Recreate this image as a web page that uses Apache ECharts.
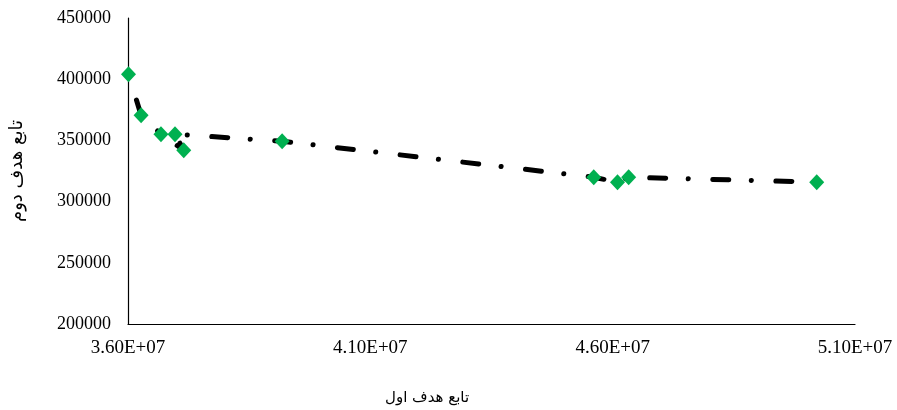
<!DOCTYPE html>
<html>
<head>
<meta charset="utf-8">
<script src="https://cdn.jsdelivr.net/npm/echarts@6/dist/echarts.min.js"></script>
<style>
  html, body { margin: 0; padding: 0; background: #fff; }
  #chart { width: 897px; height: 410px; }
</style>
</head>
<body>
<div id="chart"></div>
<script>
// Pareto solutions: first objective (x) and second objective (y), in front order
const objective1 = [36010000, 36270000, 36680000, 37150000, 36970000, 39180000, 45610000, 46100000, 46330000, 50210000];
const objective2 = [404100, 370600, 355100, 342000, 355100, 349300, 319900, 315900, 319900, 315900];

const xTicks = { min: 36000000, max: 51000000, step: 5000000 };
const yTicks = { min: 200000, max: 450000, step: 50000 };

const xTitle = 'تابع هدف اول';
const yTitle = 'تابع هدف دوم';

const points = objective1.map((x, i) => [x, objective2[i]]);

const chart = echarts.init(document.getElementById('chart'), null, { renderer: 'canvas' });

const serif = '"Liberation Serif", "Times New Roman", serif';

chart.setOption({
  animation: false,
  backgroundColor: '#ffffff',
  grid: { left: 128, right: 42, top: 18, bottom: 86, containLabel: false },
  xAxis: {
    type: 'value',
    min: xTicks.min,
    max: xTicks.max,
    interval: xTicks.step,
    axisLine: { show: true, onZero: false, lineStyle: { color: '#000', width: 1.2 } },
    axisTick: { show: false },
    splitLine: { show: false },
    axisLabel: {
      color: '#000',
      fontFamily: serif,
      fontSize: 19,
      margin: 15,
      formatter: v => (v / 1e7).toFixed(2) + 'E+07'
    }
  },
  yAxis: {
    type: 'value',
    min: yTicks.min,
    max: yTicks.max,
    interval: yTicks.step,
    name: yTitle,
    nameLocation: 'middle',
    nameGap: 102,
    nameTextStyle: { color: '#000', fontFamily: '"DejaVu Sans", sans-serif', fontSize: 18 },
    axisLine: { show: true, onZero: false, lineStyle: { color: '#000', width: 1.2 } },
    axisTick: { show: false },
    splitLine: { show: false },
    axisLabel: {
      color: '#000',
      fontFamily: serif,
      fontSize: 18,
      margin: 17,
      formatter: v => String(v)
    }
  },
  graphic: [{
    type: 'text',
    left: 385,
    top: 391,
    style: {
      text: xTitle,
      fill: '#000',
      font: '15px "DejaVu Sans", sans-serif'
    }
  }],
  series: [
    {
      type: 'line',
      data: points,
      symbol: 'none',
      silent: true,
      z: 1,
      lineStyle: {
        color: '#000',
        width: 5,
        type: [16, 22.5, 0.1, 24.5],
        dashOffset: 36,
        cap: 'round',
        join: 'round'
      }
    },
    {
      type: 'scatter',
      data: points,
      symbol: 'diamond',
      symbolSize: [15, 16],
      z: 3,
      itemStyle: { color: '#00B050', opacity: 1 }
    }
  ]
});
</script>
</body>
</html>
